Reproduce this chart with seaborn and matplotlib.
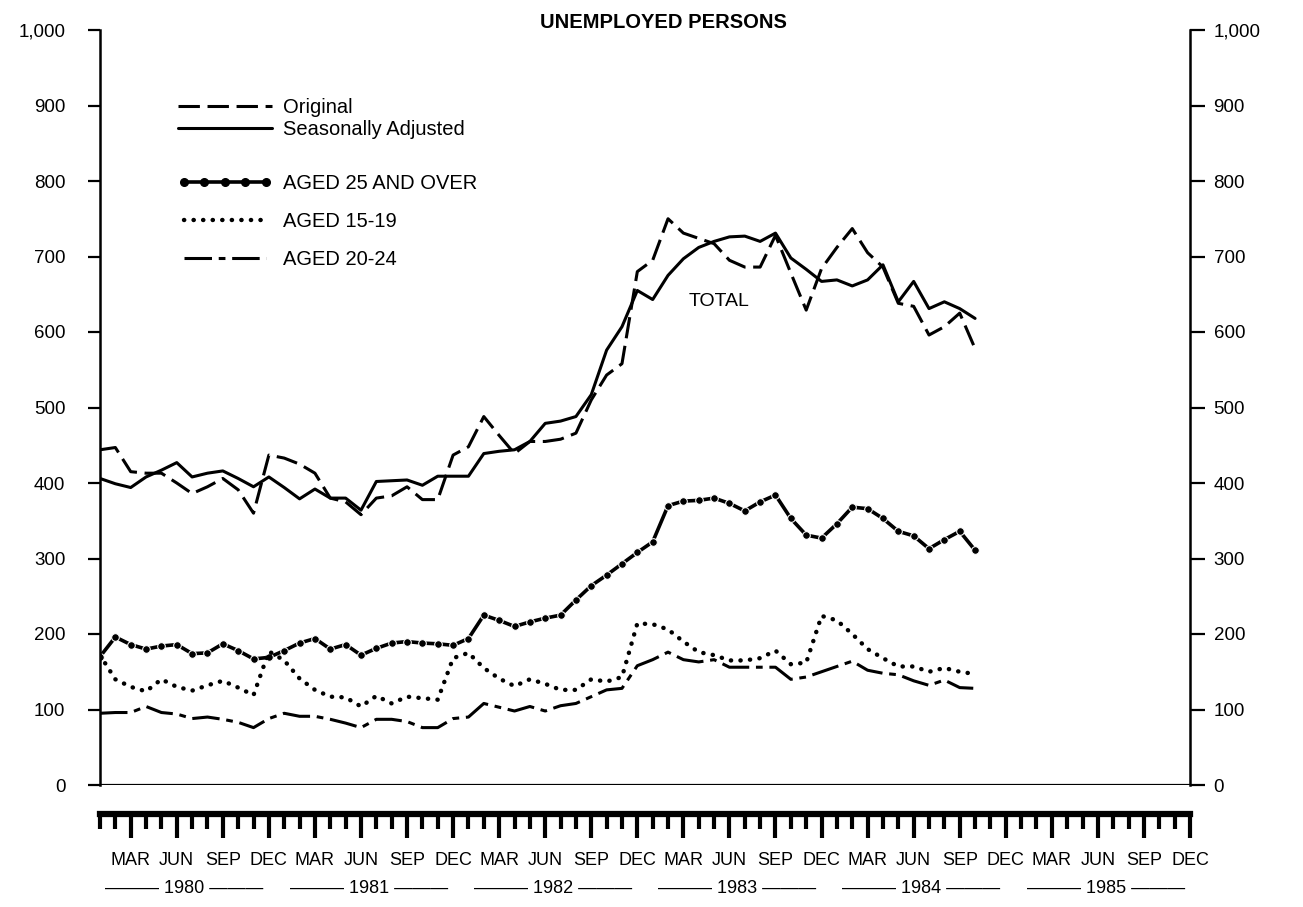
import numpy as np
import pandas as pd
import matplotlib
matplotlib.use("Agg")
import matplotlib.pyplot as plt
import seaborn as sns
from matplotlib.lines import Line2D

# ---------------- data (thousands), monthly Jan 1980 .. Oct 1984 ----------------
months = list(range(58))  # month index, 0 = Jan 1980

total_original = [444, 447, 415, 413, 413, 400, 386, 395, 406, 391,
                  360, 437, 433, 425, 413, 380, 375, 358, 380, 383,
                  395, 378, 378, 437, 448, 488, 463, 439, 455, 455,
                  458, 466, 510, 543, 558, 680, 695, 750, 731, 724,
                  717, 695, 686, 686, 728, 678, 629, 684, 712, 737,
                  705, 686, 638, 634, 596, 607, 625, 578]

total_sa = [406, 399, 394, 408, 417, 427, 408, 413, 416, 406,
            395, 408, 394, 379, 392, 380, 380, 364, 402, 403,
            404, 397, 409, 409, 409, 439, 442, 444, 455, 479,
            482, 488, 517, 576, 607, 655, 643, 675, 697, 712,
            720, 726, 727, 720, 731, 698, 683, 667, 669, 661,
            669, 689, 640, 667, 631, 640, 631, 618]

aged_25_over = [170, 196, 186, 180, 184, 186, 174, 175, 187, 178,
                167, 169, 178, 188, 194, 180, 186, 172, 181, 188,
                190, 188, 187, 185, 194, 225, 218, 210, 216, 221,
                225, 245, 264, 278, 293, 308, 322, 370, 376, 377,
                380, 373, 363, 375, 384, 353, 331, 327, 346, 368,
                366, 353, 336, 330, 313, 325, 336, 311]

aged_15_19 = [172, 140, 130, 124, 140, 130, 125, 132, 138, 129,
              119, 177, 165, 141, 126, 117, 116, 104, 118, 108,
              117, 115, 113, 168, 175, 155, 141, 131, 140, 134,
              126, 126, 140, 137, 143, 214, 213, 206, 190, 176,
              172, 165, 165, 168, 178, 160, 162, 224, 218, 200,
              180, 168, 157, 157, 150, 155, 150, 147]

aged_20_24 = [95, 96, 96, 104, 96, 94, 88, 90, 87, 83,
              76, 88, 95, 91, 91, 87, 82, 76, 87, 87,
              84, 76, 76, 88, 90, 108, 103, 98, 104, 98,
              105, 108, 117, 126, 128, 158, 166, 176, 166, 163,
              166, 156, 156, 156, 156, 140, 143, 150, 157, 164,
              152, 148, 146, 138, 132, 139, 129, 128]

quarter_labels = ["MAR", "JUN", "SEP", "DEC"]
years = [1980, 1981, 1982, 1983, 1984, 1985]
y_ticks = [0, 100, 200, 300, 400, 500, 600, 700, 800, 900, 1000]

legend_labels_top = ["Original", "Seasonally Adjusted"]
legend_labels_age = ["AGED 25 AND OVER", "AGED 15-19", "AGED 20-24"]

# ---------------- styling ----------------
sns.set_style("white")
plt.rcParams['font.family'] = ['Liberation Sans', 'DejaVu Sans']
plt.rcParams['text.color'] = 'black'
plt.rcParams['xtick.color'] = 'black'
plt.rcParams['ytick.color'] = 'black'
plt.rcParams['axes.edgecolor'] = 'black'

W, H = 1303, 907
fig = plt.figure(figsize=(W / 100, H / 100), dpi=100)
ax = fig.add_axes([100 / W, 122 / H, 1090 / W, 755 / H])

df = pd.DataFrame({
    "month": months,
    "original": total_original,
    "sa": total_sa,
    "a25": aged_25_over,
    "a1519": aged_15_19,
    "a2024": aged_20_24,
})

st_orig = dict(color="black", lw=2.2, linestyle=(0, (7, 2.5)))
st_sa = dict(color="black", lw=2.2, linestyle="-")
st_25 = dict(color="black", lw=2.6, linestyle="-", marker="o", markersize=5.5)
st_1519 = dict(color="black", lw=3.2, linestyle=(0, (0.05, 2.1)), dash_capstyle="round")
st_2024 = dict(color="black", lw=2.2, linestyle=(0, (9, 2.2, 2.2, 2.2)))

sns.lineplot(data=df, x="month", y="original", ax=ax, legend=False, **st_orig)
sns.lineplot(data=df, x="month", y="sa", ax=ax, legend=False, **st_sa)
sns.lineplot(data=df, x="month", y="a25", ax=ax, legend=False, **st_25)
sns.lineplot(data=df, x="month", y="a1519", ax=ax, legend=False, **st_1519)
sns.lineplot(data=df, x="month", y="a2024", ax=ax, legend=False, **st_2024)

ax.set_xlim(0, 71)
ax.set_ylim(0, 1000)
ax.set_xlabel("")
ax.set_ylabel("")

# baseline at zero
ax.axhline(0, color="black", lw=1.6, zorder=1)

# spines
ax.spines["top"].set_visible(False)
ax.spines["right"].set_visible(False)
ax.spines["left"].set_linewidth(1.8)
ax.spines["bottom"].set_position(("outward", 21))
ax.spines["bottom"].set_linewidth(4.5)

# y axis left
ax.set_yticks(y_ticks)
ax.set_yticklabels([f"{v:,}" for v in y_ticks])
ax.tick_params(axis="y", left=True, direction="out", length=9, width=1.6,
               pad=16, labelsize=13.5)

# x axis comb
month_ticks = list(range(72))
quarter_ticks = [m for m in month_ticks if m % 3 == 2]
ax.set_xticks(month_ticks, minor=True)
ax.set_xticks(quarter_ticks)
ax.set_xticklabels([quarter_labels[i % 4] for i in range(len(quarter_ticks))])
ax.tick_params(axis="x", which="minor", bottom=True, direction="out",
               length=11, width=3.0)
ax.tick_params(axis="x", which="major", bottom=True, direction="out",
               length=17, width=3.0, pad=10, labelsize=13)

# year labels
for k, yr in enumerate(years):
    ax.annotate(f"\u2014\u2014\u2014 {yr} \u2014\u2014\u2014",
                xy=(5.5 + 12 * k, -0.137), xycoords=("data", "axes fraction"),
                ha="center", va="center", fontsize=13, annotation_clip=False)

# right axis
ax2 = ax.twinx()
ax2.set_ylim(0, 1000)
ax2.set_yticks(y_ticks)
ax2.set_yticklabels([f"{v:,}" for v in y_ticks])
for s in ["top", "bottom", "left"]:
    ax2.spines[s].set_visible(False)
ax2.spines["right"].set_linewidth(1.8)
ax2.tick_params(axis="y", right=True, direction="out", length=11, width=1.6,
                pad=6, labelsize=13.5)

# annotation
ax.text(40.3, 640, "TOTAL", ha="center", va="center", fontsize=14)

# title
fig.text(663 / W, 1 - 22 / H, "UNEMPLOYED PERSONS", ha="center", va="center",
         fontsize=14.5, fontweight="bold")

# legends
h_top = [Line2D([], [], **st_orig), Line2D([], [], **st_sa)]
leg1 = ax.legend(h_top, legend_labels_top, loc="upper left",
                 bbox_to_anchor=(0.0716, 0.910), frameon=False, borderpad=0,
                 borderaxespad=0, handlelength=4.65, handletextpad=0.55,
                 labelspacing=0.15, fontsize=14.5)
ax.add_artist(leg1)
h_age = [Line2D([], [], **st_25), Line2D([], [], **st_1519), Line2D([], [], **st_2024)]
leg2 = ax.legend(h_age, legend_labels_age, loc="upper left",
                 bbox_to_anchor=(0.0716, 0.809), frameon=False, borderpad=0,
                 borderaxespad=0, handlelength=4.65, handletextpad=0.55,
                 labelspacing=0.93, fontsize=14.5, numpoints=5)

fig.savefig("out.png", dpi=100, facecolor="white")
